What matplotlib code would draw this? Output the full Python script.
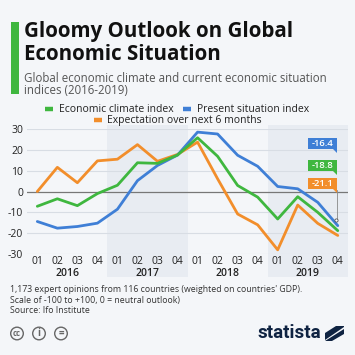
import matplotlib
matplotlib.use("Agg")
import matplotlib.pyplot as plt
import matplotlib.transforms as mtrans
from matplotlib.patches import Rectangle, Circle, Polygon
from matplotlib.lines import Line2D

plt.rcParams['font.family'] = ['Open Sans', 'DejaVu Sans']

quarters = ["01", "02", "03", "04"] * 4
years = ["2016", "2017", "2018", "2019"]
climate = [-7.1, -3.5, -6.8, -1.0, 3.0, 13.8, 13.5, 17.5, 25.8, 16.9, 2.9, -2.7, -13.2, -2.5, -10.0, -18.8]
present = [-14.4, -17.6, -16.8, -15.2, -8.5, 5.2, 12.5, 17.5, 28.5, 27.6, 17.4, 12.1, 2.4, 1.3, -5.2, -16.4]
expect = [0.0, 11.6, 4.2, 14.7, 15.5, 22.5, 14.5, 17.8, 23.7, 6.1, -10.8, -16.0, -28.0, -6.5, -15.3, -21.1]
series_names = ["Economic climate index", "Present situation index", "Expectation over next 6 months"]

GREEN = "#3fb73f"
BLUE = "#3f7fd6"
ORANGE = "#f28e2b"
BG = "#f4f6f9"
SHADE = "#e8ecf2"
TXT = "#222222"

W = H = 355
fig = plt.figure(figsize=(3.55, 3.55), dpi=100, facecolor=BG)

def fx(x):
    return x / W

def fy(y):
    return 1 - y / H

ax = fig.add_axes([fx(27.3), fy(254), (347.8 - 27.3) / W, (254 - 129) / H])
ax.set_facecolor("none")
n = len(quarters)
xs = list(range(n))
ax.set_xlim(-0.5, n - 0.5)
ax.set_ylim(-30, 30)

blend = mtrans.blended_transform_factory(ax.transData, fig.transFigure)
for yi in (1, 3):
    x0 = yi * 4 - 0.5
    r = Rectangle((x0, fy(277)), 4, fy(125) - fy(277), transform=blend,
                  facecolor=SHADE, edgecolor="none", zorder=0, clip_on=False)
    fig.add_artist(r)

for v in (30, 20, 10, -10, -20, -30):
    ax.axhline(v, color="#d8dde4", lw=0.8, zorder=1)
ax.axhline(0, color="#777777", lw=0.9, zorder=2)

for vals, c in ((expect, ORANGE), (present, BLUE), (climate, GREEN)):
    ax.plot(xs, vals, color=c, lw=2.0, zorder=3, solid_capstyle="round",
            solid_joinstyle="round", clip_on=False)

for s in ax.spines.values():
    s.set_visible(False)
ax.set_yticks([30, 20, 10, 0, -10, -20, -30])
ax.set_yticklabels(["30", "20", "10", "0", "-10", "-20", "-30"])
ax.tick_params(axis="y", length=0, pad=3, labelsize=7.5, labelcolor=TXT)
ax.set_xticks(xs)
ax.set_xticklabels(quarters)
ax.tick_params(axis="x", length=0, pad=1.5, labelsize=7.5, labelcolor=TXT)
for i, yr in enumerate(years):
    ax.text(i * 4 + 1.5, fy(273.5), yr, transform=blend, ha="center", va="center",
            fontsize=7.5, color=TXT, fontweight="semibold")

box_info = [(present[-1], BLUE, 143.5), (climate[-1], GREEN, 165.5), (expect[-1], ORANGE, 183.5)]
for val, c, ycen in box_info:
    x1 = 336.5
    x0 = 308
    h = 11
    rect = Rectangle((fx(x0), fy(ycen + h / 2)), (x1 - x0) / W, h / H, transform=fig.transFigure,
                     facecolor=c, edgecolor="none", zorder=5)
    fig.add_artist(rect)
    tail = Polygon([(fx(x1 - 4), fy(ycen + h / 2)), (fx(x1), fy(ycen + h / 2)), (fx(x1), fy(ycen + h / 2 + 3.5))],
                   closed=True, transform=fig.transFigure, facecolor=c, edgecolor="none", zorder=5)
    fig.add_artist(tail)
    fig.text(fx((x0 + x1) / 2), fy(ycen), f"{val:.1f}", ha="center", va="center",
             fontsize=6.8, color="white", fontweight="semibold", zorder=6)

fig.add_artist(Line2D([fx(336.5), fx(336.5)], [fy(190), fy(219)], transform=fig.transFigure,
                      color="#888888", lw=0.6))
fig.add_artist(Circle((fx(336.5), fy(220.5)), 1.6 / W, transform=fig.transFigure,
                      facecolor="white", edgecolor="#555555", lw=0.6, zorder=6))

fig.add_artist(Rectangle((fx(10.5), fy(94)), 8.5 / W, 72 / H, transform=fig.transFigure,
                         facecolor=GREEN, edgecolor="none"))
fig.text(fx(23.5), fy(36.5), "Gloomy Outlook on Global", fontsize=14.8, fontweight="bold",
         color="#111111", va="baseline", ha="left")
fig.text(fx(23.5), fy(59.5), "Economic Situation", fontsize=14.8, fontweight="bold",
         color="#111111", va="baseline", ha="left")
fig.text(fx(23.5), fy(81.5), "Global economic climate and current economic situation",
         fontsize=8.3, color="#555555", va="baseline", ha="left")
fig.text(fx(23.5), fy(93.5), "indices (2016-2019)",
         fontsize=8.3, color="#555555", va="baseline", ha="left")

legend_items = [(GREEN, 49, 109, 59, series_names[0]),
                (BLUE, 187, 109, 197, series_names[1]),
                (ORANGE, 98, 120, 107, series_names[2])]
for c, mx, my, tx, name in legend_items:
    fig.add_artist(Line2D([fx(mx - 4), fx(mx + 4)], [fy(my), fy(my)], transform=fig.transFigure,
                          color=c, lw=3.2, solid_capstyle="butt"))
    fig.text(fx(tx), fy(my), name, fontsize=7.5, color=TXT, va="center", ha="left")

foot = ["1,173 expert opinions from 116 countries (weighted on countries' GDP).",
        "Scale of -100 to +100, 0 = neutral outlook)",
        "Source: Ifo Institute"]
for i, line in enumerate(foot):
    fig.text(fx(10.5), fy(289.5 + 10.7 * i), line, fontsize=6.3, color="#333333",
             va="center", ha="left")

for cx, sym in ((17, "cc"), (39, "i"), (61, "=")):
    fig.add_artist(Circle((fx(cx), fy(333.5)), 6.3 / W, transform=fig.transFigure,
                          facecolor="none", edgecolor="#666666", lw=1.0))
    fig.text(fx(cx), fy(333.5), sym, fontsize=5.5 if sym == "cc" else 7, color="#666666",
             ha="center", va="center", fontweight="bold")

fig.text(fx(321), fy(333), "statista", fontsize=13.5, fontweight="bold", color="#0f2342",
         ha="right", va="center", family=["Roboto", "DejaVu Sans"])
fig.add_artist(Polygon([(fx(325), fy(340)), (fx(325), fy(333)), (fx(336), fy(326)), (fx(344), fy(326)),
                        (fx(344), fy(327))], closed=True, transform=fig.transFigure,
                       facecolor="#0f2342", edgecolor="none"))
fig.add_artist(Polygon([(fx(325), fy(341)), (fx(332), fy(341)), (fx(344), fy(334)), (fx(344), fy(329))],
                       closed=True, transform=fig.transFigure, facecolor="#0f2342", edgecolor="none"))

fig.savefig("out.png", dpi=100, facecolor=BG)
